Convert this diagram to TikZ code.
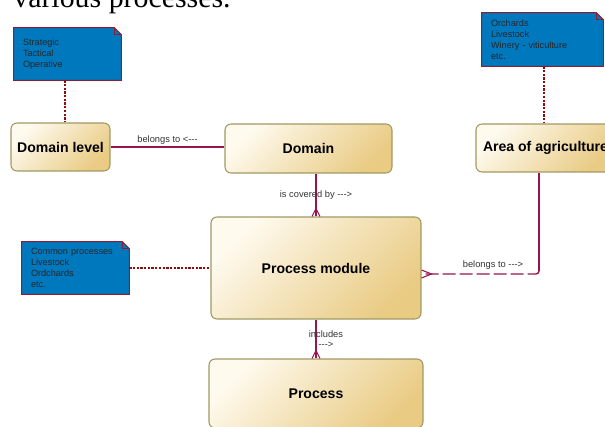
\documentclass[tikz,border=0pt]{standalone}
\usepackage{fontspec}
\setmainfont{Liberation Sans}
\newfontfamily\titlefont{Liberation Serif}
\usepackage{tikz}
\usetikzlibrary{arrows.meta,positioning,backgrounds}
\definecolor{boxlight}{RGB}{254,250,238}
\definecolor{boxdark}{RGB}{233,203,132}
\definecolor{boxline}{RGB}{160,152,98}
\definecolor{noteblue}{RGB}{0,120,190}
\definecolor{notered}{RGB}{140,30,50}
\definecolor{relcol}{RGB}{150,20,80}
\definecolor{linkcol}{RGB}{140,12,20}

\begin{document}
\begin{tikzpicture}[
  x=0.02cm, y=-0.02cm,
  entity/.style={rectangle, rounded corners=1.2mm, draw=boxline, line width=0.6pt, shading=axis, top color=boxlight, bottom color=boxdark, shading angle=45, font=\fontsize{8}{9}\selectfont\bfseries, align=center},
  note/.style={rectangle, inner xsep=1.8mm, inner ysep=0pt, align=left, font=\fontsize{5.2}{6.2}\selectfont, text=black!85},
  notebd/.style={fill=noteblue, draw=notered, line width=0.6pt},
  lbl/.style={font=\fontsize{5.3}{6}\selectfont, text=black!80, inner sep=1pt, align=center},
  rel/.style={draw=relcol, line width=0.6pt},
  link/.style={draw=linkcol, line width=0.9pt, dash pattern=on 1.3pt off 0.8pt}
]
\useasboundingbox (0,0) rectangle (605,426);
\node[anchor=base west, inner sep=0pt, font=\titlefont\fontsize{17}{20}\selectfont] (title) at (13,8) {various processes.};

% entities
\node[entity, minimum width=19.8mm, minimum height=9.6mm] (dl) at (60.5,147) {Domain level};
\node[entity, minimum width=33.4mm, minimum height=9.8mm] (dom) at (308.5,148.5) {Domain};
\node[entity, minimum width=27.8mm, minimum height=9.6mm] (area) at (545.5,148) {Area of agriculture};
\node[entity, minimum width=42mm, minimum height=20.4mm] (pm) at (316,268) {Process module};
\node[entity, minimum width=42.8mm, minimum height=13.8mm] (proc) at (316,393.5) {Process};

% notes
\node[note, text width=17.8mm, minimum height=10.4mm] (n1) at (67.5,54) {Strategic\\Tactical\\Operative};
\node[note, text width=20.6mm, minimum height=10.6mm] (n2) at (542.5,39.5) {Orchards\\Livestock\\Winery - viticulture\\etc.};
\node[note, text width=17.8mm, minimum height=10.4mm] (n3) at (75.5,268) {Common processes\\Livestock\\Ordchards\\etc.};
\begin{scope}[on background layer]
  \foreach \n in {n1,n2,n3} {
    \filldraw[notebd] (\n.south west) -- (\n.north west) -- ([xshift=-1.4mm]\n.north east)
      -- ([yshift=-1.4mm]\n.north east) -- (\n.south east) -- cycle;
    \draw[notebd, fill=none] ([xshift=-1.4mm]\n.north east) |- ([yshift=-1.4mm]\n.north east);
  }
\end{scope}

% note links
\draw[link] ([xshift=-0.5mm]n1.south) -- ([xshift=-0.5mm]n1.south |- dl.north);
\draw[link] ([xshift=0.3mm]n2.south) -- ([xshift=0.3mm]n2.south |- area.north);
\draw[link] (n3.east) -- (pm.west);

% relations
\draw[rel] (dl.east) -- (dl.east -| dom.west) node[lbl, midway, above] (l1) {belongs to <-{}-{}-};
\draw[rel] (pm.north |- dom.south) -- (pm.north) node[lbl, midway] (l2) {is covered by -{}-{}->};
\draw[rel] ([xshift=-0.8mm]pm.north) -- ++(4,-8) -- ++(4,8);
\draw[rel] (pm.south) -- (proc.north) node[lbl, midway, xshift=2mm] (l3) {includes\\-{}-{}->};
\draw[rel] ([xshift=-0.8mm]proc.north) -- ++(4,-8) -- ++(4,8);

\coordinate (ag) at ([xshift=-1.3mm]area.south);
\coordinate (pr) at ([yshift=-1.2mm]pm.east);
\draw[rel] (ag) -- ([yshift=0.6mm]ag |- pr);
\draw[rel, line width=0.8pt, dash pattern=on 2.6mm off 0.8mm, rounded corners=0.6mm] ([yshift=0.6mm]ag |- pr) -- (ag |- pr) -- (pr);
\node[lbl, above] (l4) at ([xshift=-9.2mm, yshift=0.4mm]ag |- pr) {belongs to -{}-{}->};
\draw[rel] ([yshift=0.8mm]pr) -- ++(10,4) -- ++(-10,4);
\end{tikzpicture}
\end{document}
